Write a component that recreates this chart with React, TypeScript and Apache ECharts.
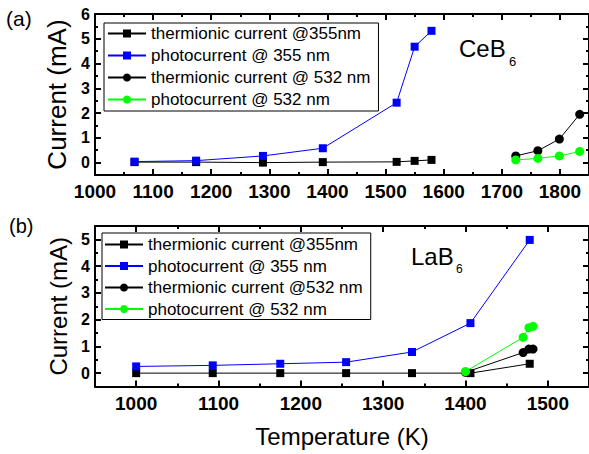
import React, { useEffect, useRef } from 'react';
import * as echarts from 'echarts';

const FONT = "'Liberation Sans', Arial, Helvetica, sans-serif";

// ---------- Panel (a): CeB6 ----------
const ceX355 = [1068, 1174, 1289, 1392, 1519, 1550, 1579];
const ceThermo355 = [0.02, 0.02, 0.0, 0.02, 0.03, 0.07, 0.11];
const cePhoto355 = [0.04, 0.08, 0.27, 0.58, 2.42, 4.68, 5.32];
const ceX532 = [1724, 1762, 1799, 1834];
const ceThermo532 = [0.27, 0.48, 0.95, 1.95];
const cePhoto532 = [0.11, 0.17, 0.27, 0.45];

// ---------- Panel (b): LaB6 ----------
const laX355 = [1000, 1093, 1175, 1255, 1335, 1406, 1478];
const laThermo355 = [0.0, 0.0, 0.0, 0.0, 0.0, 0.0, 0.35];
const laPhoto355 = [0.25, 0.29, 0.35, 0.41, 0.79, 1.87, 4.98];
const laX532 = [1400, 1470, 1477, 1482];
const laThermo532 = [0.03, 0.77, 0.9, 0.9];
const laPhoto532 = [0.06, 1.34, 1.7, 1.75];

// ---------- Tick labels ----------
const topXTicks = [1000, 1100, 1200, 1300, 1400, 1500, 1600, 1700, 1800];
const topYTicks = [0, 1, 2, 3, 4, 5, 6];
const botXTicks = [1000, 1100, 1200, 1300, 1400, 1500];
const botYTicks = [0, 1, 2, 3, 4, 5];

const topNames = [
  'thermionic current @355nm',
  'photocurrent @ 355 nm',
  'thermionic current @ 532 nm',
  'photocurrent @ 532 nm',
];
const botNames = [
  'thermionic current @355nm',
  'photocurrent @ 355 nm',
  'thermionic current @532 nm',
  'photocurrent @ 532 nm',
];

const BLUE = '#0000ff';
const GREEN = '#00ff00';
const BLACK = '#000000';

function pair(xs: number[], ys: number[]) {
  return xs.map((x, i) => [x, ys[i]]);
}

function makeAxes(
  dim: 'x' | 'y',
  mainGrid: number,
  overGrid: number,
  min: number,
  max: number,
  step: number,
  majors: number[],
  labelSize: number,
  name?: string,
  nameSize?: number,
  nameGap?: number
) {
  const posA = dim === 'x' ? 'bottom' : 'left';
  const posB = dim === 'x' ? 'top' : 'right';
  const line = { show: true, onZero: false, lineStyle: { color: BLACK, width: 2 } };
  const base = { type: 'value', min, max, interval: step, splitLine: { show: false } };
  const mainA: any = {
    ...base,
    gridIndex: mainGrid,
    position: posA,
    axisLine: line,
    axisTick: { show: true, inside: true, length: 3, lineStyle: { color: BLACK, width: 2 } },
    axisLabel: {
      show: true,
      customValues: majors,
      formatter: (v: number) => String(v),
      fontSize: labelSize,
      fontWeight: 'bold',
      fontFamily: FONT,
      color: BLACK,
      margin: dim === 'x' ? 7 : 5,
    },
  };
  if (name) {
    mainA.name = name;
    mainA.nameLocation = 'middle';
    mainA.nameGap = nameGap;
    mainA.nameTextStyle = { fontSize: nameSize, fontFamily: FONT, color: BLACK };
  }
  const mainB = {
    ...base,
    gridIndex: mainGrid,
    position: posB,
    axisLine: line,
    axisTick: { show: true, inside: true, length: 3, lineStyle: { color: BLACK, width: 2 } },
    axisLabel: { show: false },
  };
  const overA = {
    ...base,
    gridIndex: overGrid,
    position: posA,
    axisLine: { show: false, onZero: false },
    axisTick: { show: true, inside: true, length: 6, customValues: majors, lineStyle: { color: BLACK, width: 2 } },
    axisLabel: { show: false },
  };
  const overB = { ...overA, position: posB };
  return [mainA, mainB, overA, overB];
}

function lineSeries(name: string, data: number[][], color: string, symbol: string, xi: number, yi: number) {
  return {
    type: 'line',
    name,
    data,
    xAxisIndex: xi,
    yAxisIndex: yi,
    symbol,
    symbolSize: symbol === 'rect' ? 8 : 9,
    showSymbol: true,
    lineStyle: { color, width: 1 },
    itemStyle: { color, borderWidth: 0 },
    emphasis: { disabled: true },
    clip: false,
  };
}

export default function App() {
  const ref = useRef<HTMLDivElement>(null);
  useEffect(() => {
    if (!ref.current) return;
    const chart = echarts.init(ref.current, null, { renderer: 'svg' });

    const topGrid = { left: 95, top: 14, width: 495, height: 161 };
    const botGrid = { left: 95, top: 226, width: 496, height: 160.5 };

    const xAxes = [
      ...makeAxes('x', 0, 1, 1000, 1850, 50, topXTicks, 19),
      ...makeAxes('x', 2, 3, 950, 1550, 50, botXTicks, 19, 'Temperature (K)', 24, 38),
    ];
    const yAxes = [
      ...makeAxes('y', 0, 1, -0.5, 6, 0.5, topYTicks, 16, 'Current (mA)', 26, 25),
      ...makeAxes('y', 2, 3, -0.5, 5.5, 0.5, botYTicks, 16, 'Current (mA)', 24, 25),
    ];

    const legendCommon = {
      orient: 'vertical',
      itemWidth: 38,
      itemHeight: 10,
      borderColor: BLACK,
      borderWidth: 1,
      borderRadius: 0,
      backgroundColor: '#ffffff',
      selectedMode: false,
      textStyle: { fontSize: 17, fontFamily: FONT, color: BLACK, lineHeight: 17 },
    };

    chart.setOption({
      animation: false,
      grid: [
        { ...topGrid, containLabel: false },
        { ...topGrid, containLabel: false },
        { ...botGrid, containLabel: false },
        { ...botGrid, containLabel: false },
      ],
      xAxis: xAxes,
      yAxis: yAxes,
      legend: [
        { ...legendCommon, left: 104, top: 23, itemGap: 5, padding: [2, 8, 3, 3], data: topNames },
        { ...legendCommon, left: 102, top: 233, itemGap: 4.5, padding: [3, 8, 2, 2], data: botNames },
      ],
      graphic: [
        { type: 'text', left: 6, top: 8, style: { text: '(a)', fontSize: 21, fontFamily: FONT, fill: BLACK } },
        { type: 'text', left: 9, top: 216, style: { text: '(b)', fontSize: 20, fontFamily: FONT, fill: BLACK } },
        { type: 'text', left: 459, top: 36, style: { text: 'CeB', fontSize: 24, fontFamily: FONT, fill: BLACK } },
        { type: 'text', left: 509, top: 55, style: { text: '6', fontSize: 13, fontFamily: FONT, fill: BLACK } },
        { type: 'text', left: 411, top: 244, style: { text: 'LaB', fontSize: 24, fontFamily: FONT, fill: BLACK } },
        { type: 'text', left: 456, top: 263, style: { text: '6', fontSize: 12, fontFamily: FONT, fill: BLACK } },
      ],
      series: [
        lineSeries(topNames[0], pair(ceX355, ceThermo355), BLACK, 'rect', 0, 0),
        lineSeries(topNames[1], pair(ceX355, cePhoto355), BLUE, 'rect', 0, 0),
        lineSeries(topNames[2], pair(ceX532, ceThermo532), BLACK, 'circle', 0, 0),
        lineSeries(topNames[3], pair(ceX532, cePhoto532), GREEN, 'circle', 0, 0),
        lineSeries(botNames[0], pair(laX355, laThermo355), BLACK, 'rect', 4, 4),
        lineSeries(botNames[1], pair(laX355, laPhoto355), BLUE, 'rect', 4, 4),
        lineSeries(botNames[2], pair(laX532, laThermo532), BLACK, 'circle', 4, 4),
        lineSeries(botNames[3], pair(laX532, laPhoto532), GREEN, 'circle', 4, 4),
      ],
    });
    return () => chart.dispose();
  }, []);
  return (
    <div
      ref={ref}
      style={{ position: 'absolute', left: 0, top: 0, width: 589, height: 454, background: '#fff' }}
    />
  );
}
